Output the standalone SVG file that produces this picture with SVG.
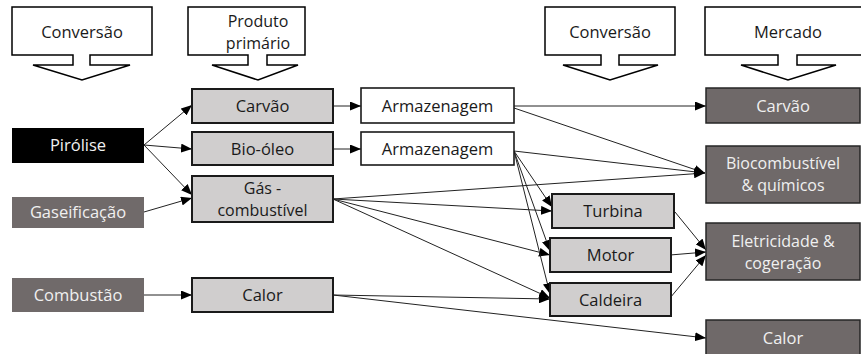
<svg xmlns="http://www.w3.org/2000/svg" width="861" height="354" viewBox="0 0 861 354">
  <defs>
    <marker id="arrow" markerUnits="userSpaceOnUse" markerWidth="11" markerHeight="9" refX="11" refY="4.5" orient="auto">
      <path d="M0,0 L11,4.5 L0,9 Z" fill="#000"/>
    </marker>
    <style>
      text { font-family: "Open Sans", "Noto Sans", "Liberation Sans", sans-serif; font-size: 16.5px; text-anchor: middle; }
      .two { font-size: 16px; }
      .hdr { fill: #fff; stroke: #000; stroke-width: 1.5; stroke-linejoin: miter; }
      .hdr-t { fill: #1a1a1a; }
      .conv-black { fill: #000; }
      .conv-dark { fill: #706a6a; }
      .light-t { fill: #f0f0f0; }
      .prod { fill: #d0cece; stroke: #1a1a1a; stroke-width: 2; }
      .store { fill: #fff; stroke: #1a1a1a; stroke-width: 1.6; }
      .mkt { fill: #6f6969; stroke: #262626; stroke-width: 1.5; }
      .dark-t { fill: #1a1a1a; }
      .edge { fill: none; stroke: #222; stroke-width: 1; marker-end: url(#arrow); }
    </style>
  </defs>
  <rect width="861" height="354" fill="#fff"/>

  <!-- column headers (callout boxes pointing down) -->
  <g id="hdr-conversao-1">
    <path class="hdr" d="M12,7 H152 V55 H90 V65 H130 L82,80 L33,65 H73 V55 H12 Z"/>
    <text class="hdr-t" x="82" y="38">Conversão</text>
  </g>
  <g id="hdr-produto">
    <path class="hdr" d="M188,7 H305 V55 H267 V65 H298 L258,80 L212,65 H248 V55 H188 Z"/>
    <text class="hdr-t two" x="258" y="27">Produto</text>
    <text class="hdr-t two" x="258" y="49">primário</text>
  </g>
  <g id="hdr-conversao-2">
    <path class="hdr" d="M545,7 H675 V55 H619 V65 H658 L610,80 L563,65 H601 V55 H545 Z"/>
    <text class="hdr-t" x="610" y="38">Conversão</text>
  </g>
  <g id="hdr-mercado">
    <path class="hdr" d="M705,7 H871 V55 H797 V65 H836 L788,80 L741,65 H778 V55 H705 Z"/>
    <text class="hdr-t" x="788" y="38">Mercado</text>
  </g>

  <!-- connectors -->
  <g id="connectors">
    <path class="edge" d="M144,145 L192,105"/>
    <path class="edge" d="M144,145 L192,149"/>
    <path class="edge" d="M144,145 L192,195"/>
    <path class="edge" d="M144,212 L192,198"/>
    <path class="edge" d="M144,295 L192,295"/>
    <path class="edge" d="M333,106 L361,106"/>
    <path class="edge" d="M333,149 L361,149"/>
    <path class="edge" d="M514,106 L706,106"/>
    <path class="edge" d="M514,108 L705,173"/>
    <path class="edge" d="M514,151 L705,173"/>
    <path class="edge" d="M333,199 L705,173"/>
    <path class="edge" d="M333,199 L552,211"/>
    <path class="edge" d="M333,199 L550,255"/>
    <path class="edge" d="M333,199 L550,298"/>
    <path class="edge" d="M514,151 L552,207"/>
    <path class="edge" d="M514,151 L550,251"/>
    <path class="edge" d="M514,151 L550,294"/>
    <path class="edge" d="M333,295 L550,299"/>
    <path class="edge" d="M333,295 L706,338"/>
    <path class="edge" d="M675,212 L706,250"/>
    <path class="edge" d="M670,255 L706,252"/>
    <path class="edge" d="M670,298 L706,255"/>
  </g>

  <!-- conversion processes -->
  <g id="pirolise">
    <rect class="conv-black" x="12" y="128" width="132" height="35"/>
    <text class="light-t" x="78" y="151">Pirólise</text>
  </g>
  <g id="gaseificacao">
    <rect class="conv-dark" x="12" y="197" width="132" height="31"/>
    <text class="light-t" x="78" y="218">Gaseificação</text>
  </g>
  <g id="combustao">
    <rect class="conv-dark" x="12" y="278" width="132" height="34"/>
    <text class="light-t" x="78" y="301">Combustão</text>
  </g>

  <!-- primary products -->
  <g id="carvao">
    <rect class="prod" x="192" y="89" width="141" height="34"/>
    <text class="dark-t" x="262.5" y="112">Carvão</text>
  </g>
  <g id="bio-oleo">
    <rect class="prod" x="192" y="132" width="141" height="33"/>
    <text class="dark-t" x="262.5" y="155">Bio-óleo</text>
  </g>
  <g id="gas-combustivel">
    <rect class="prod" x="192" y="176" width="141" height="46"/>
    <text class="dark-t two" x="262.5" y="194">Gás -</text>
    <text class="dark-t two" x="262.5" y="216">combustível</text>
  </g>
  <g id="calor">
    <rect class="prod" x="192" y="278" width="141" height="34"/>
    <text class="dark-t" x="262.5" y="301">Calor</text>
  </g>

  <!-- storage -->
  <g id="armazenagem-1">
    <rect class="store" x="361" y="88" width="153" height="35"/>
    <text class="dark-t" x="437.5" y="112">Armazenagem</text>
  </g>
  <g id="armazenagem-2">
    <rect class="store" x="361" y="132" width="153" height="33"/>
    <text class="dark-t" x="437.5" y="155">Armazenagem</text>
  </g>

  <!-- secondary conversion -->
  <g id="turbina">
    <rect class="prod" x="552" y="194" width="122" height="34"/>
    <text class="dark-t" x="613" y="217">Turbina</text>
  </g>
  <g id="motor">
    <rect class="prod" x="550" y="238" width="121" height="34"/>
    <text class="dark-t" x="610.5" y="261">Motor</text>
  </g>
  <g id="caldeira">
    <rect class="prod" x="550" y="283" width="121" height="33"/>
    <text class="dark-t" x="610.5" y="306">Caldeira</text>
  </g>

  <!-- markets -->
  <g id="mkt-carvao">
    <rect class="mkt" x="706" y="88" width="154" height="35"/>
    <text class="light-t" x="783" y="112">Carvão</text>
  </g>
  <g id="mkt-biocombustivel">
    <rect class="mkt" x="706" y="146" width="154" height="57"/>
    <text class="light-t two" x="783" y="169">Biocombustível</text>
    <text class="light-t two" x="783" y="191">&amp; químicos</text>
  </g>
  <g id="mkt-eletricidade">
    <rect class="mkt" x="706" y="223" width="154" height="57"/>
    <text class="light-t two" x="783" y="247">Eletricidade &amp;</text>
    <text class="light-t two" x="783" y="269">cogeração</text>
  </g>
  <g id="mkt-calor">
    <rect class="mkt" x="706" y="320" width="154" height="40"/>
    <text class="light-t" x="783" y="344">Calor</text>
  </g>
</svg>
